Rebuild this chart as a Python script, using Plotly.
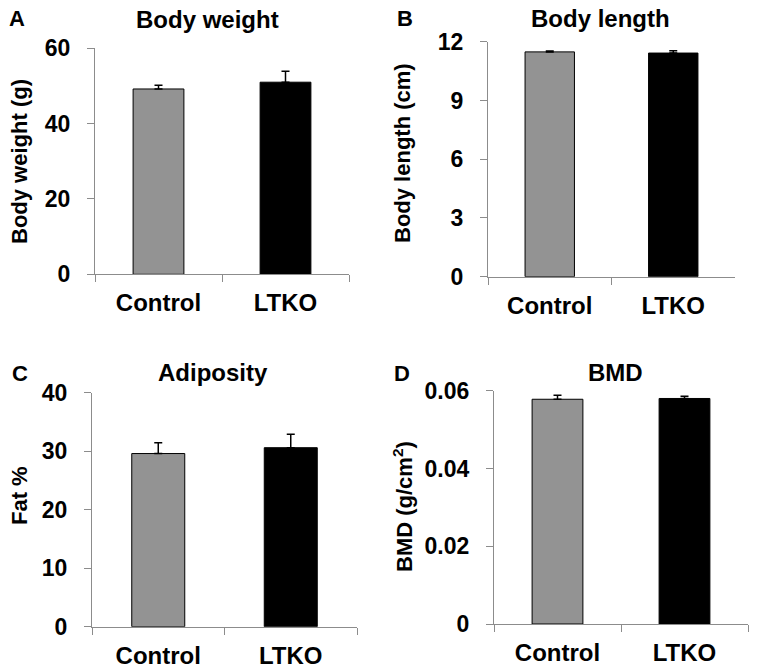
import plotly.graph_objects as go
from plotly.subplots import make_subplots

W, H = 757, 672

groups = ["Control", "LTKO"]
bar_colors = ["#939393", "#000000"]

body_weight = [49.2, 51.0]
body_weight_err = [1.0, 2.9]

body_length = [11.48, 11.42]
body_length_err = [0.05, 0.12]

fat_pct = [29.6, 30.6]
fat_pct_err = [1.85, 2.3]

bmd = [0.0578, 0.0580]
bmd_err = [0.0010, 0.0006]

panels = [
    # letter, title, ytitle, values, errors, range, tickvals, ticktext
    ("A", "Body weight", "Body weight (g)", body_weight, body_weight_err,
     [0, 60], [0, 20, 40, 60], ["0", "20", "40", "60"]),
    ("B", "Body length", "Body length (cm)", body_length, body_length_err,
     [0, 12], [0, 3, 6, 9, 12], ["0", "3", "6", "9", "12"]),
    ("C", "Adiposity", "Fat %", fat_pct, fat_pct_err,
     [0, 40], [0, 10, 20, 30, 40], ["0", "10", "20", "30", "40"]),
    ("D", "BMD", "BMD (g/cm<sup>2</sup>)", bmd, bmd_err,
     [0, 0.06], [0, 0.02, 0.04, 0.06], ["0", "0.02", "0.04", "0.06"]),
]

# plot boxes in pixels: x0, x1, ytop, ybottom
boxes = [
    (95, 349, 48.3, 274.3),
    (488, 735, 41.7, 276.7),
    (92, 357, 392.7, 626.7),
    (494, 748, 390.7, 624),
]

# label centres in pixels
letter_pos = [(17, 18), (405, 18), (20, 373), (402, 373)]
title_pos = [(207, 19), (600, 18), (213, 372), (615, 372)]
ytitle_pos = [(19, 162), (403, 153), (19, 496), (403, 507)]

FONT = "Liberation Sans, Arial, sans-serif"


def px(x):
    return x / W


def py(y):
    return 1 - y / H


fig = make_subplots(rows=2, cols=2)

annotations = []
for i, (letter, title, ytitle, vals, errs, yr, tv, tt) in enumerate(panels):
    row, col = i // 2 + 1, i % 2 + 1
    fig.add_trace(go.Bar(
        x=groups, y=vals, width=0.4,
        marker=dict(color=bar_colors, line=dict(color="black", width=1)),
        error_y=dict(type="data", array=errs, arrayminus=[0, 0], symmetric=False,
                     color="black", thickness=1.5, width=4),
        showlegend=False,
    ), row=row, col=col)

    x0, x1, yt, yb = boxes[i]
    ax = "xaxis" if i == 0 else f"xaxis{i + 1}"
    ay = "yaxis" if i == 0 else f"yaxis{i + 1}"
    fig.layout[ax].update(
        domain=[px(x0), px(x1)], range=[-0.5, 1.5], type="category",
        showline=True, linecolor="#8c8c8c", linewidth=1.3,
        ticks="outside", ticklen=7, tickcolor="#8c8c8c", tickwidth=1.3,
        tickson="boundaries", showgrid=False, zeroline=False, automargin=False,
        ticklabelstandoff=7,
        tickfont=dict(family=FONT, size=24, color="black", weight="bold"),
        fixedrange=True,
    )
    fig.layout[ay].update(
        domain=[py(yb), py(yt)], range=yr,
        tickvals=tv, ticktext=tt,
        showline=True, linecolor="#8c8c8c", linewidth=1.3,
        ticks="outside", ticklen=7, tickcolor="#8c8c8c", tickwidth=1.3,
        showgrid=False, zeroline=False, automargin=False,
        ticklabelstandoff=12,
        tickfont=dict(family=FONT, size=23, color="black", weight="bold"),
        fixedrange=True,
    )

    lx, ly = letter_pos[i]
    annotations.append(dict(
        text=f"<b>{letter}</b>", x=px(lx), y=py(ly), xref="paper", yref="paper",
        showarrow=False, xanchor="center", yanchor="middle",
        font=dict(family=FONT, size=22, color="black"),
    ))
    tx, ty = title_pos[i]
    annotations.append(dict(
        text=f"<b>{title}</b>", x=px(tx), y=py(ty), xref="paper", yref="paper",
        showarrow=False, xanchor="center", yanchor="middle",
        font=dict(family=FONT, size=24, color="black"),
    ))
    yx, yy = ytitle_pos[i]
    annotations.append(dict(
        text=f"<b>{ytitle}</b>", x=px(yx), y=py(yy), xref="paper", yref="paper",
        showarrow=False, xanchor="center", yanchor="middle", textangle=-90,
        font=dict(family=FONT, size=22, color="black"),
    ))

fig.update_layout(
    template="none",
    width=W, height=H,
    margin=dict(l=0, r=0, t=0, b=0),
    paper_bgcolor="white", plot_bgcolor="white",
    annotations=annotations,
    bargap=0.6,
)

# drop the browser's default 8px body margin so the figure fills the window
fig.write_html("out.html", config={"displayModeBar": False},
               post_script="document.body.style.margin = '0';")
